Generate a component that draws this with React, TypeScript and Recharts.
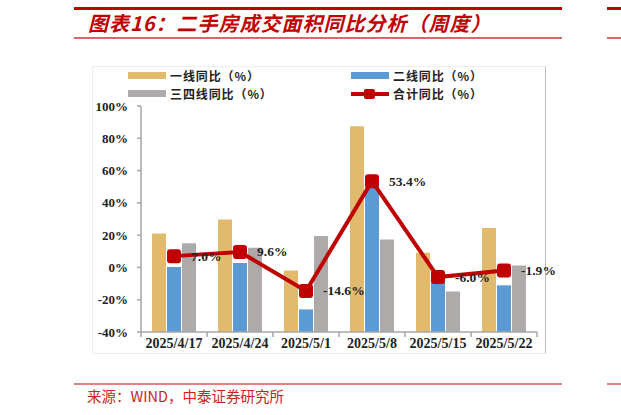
import { ComposedChart, Bar, Line, XAxis, YAxis, LabelList } from 'recharts';

const weeks = ['2025/4/17', '2025/4/24', '2025/5/1', '2025/5/8', '2025/5/15', '2025/5/22'];
const tier1 = [21.0, 29.7, -1.9, 87.5, 9.1, 24.4];
const tier2 = [0.3, 2.7, -26.0, 49.7, -9.1, -11.1];
const tier34 = [15.0, 12.2, 19.4, 17.3, -14.9, 1.2];
const total = [7.0, 9.6, -14.6, 53.4, -6.0, -1.9];
const yTicks = [-40, -20, 0, 20, 40, 60, 80, 100];

const RED = '#c00000';
const YELLOW = '#e2ba6e';
const BLUE = '#5b9bd5';
const GRAY = '#aeaaaa';
const SERIF = '"Liberation Serif", "Times New Roman", serif';
const CJK = '"Noto Sans CJK SC", "Noto Sans", sans-serif';

const base = yTicks[0];
const data = weeks.map((w, i) => ({
  week: w,
  t1: tier1[i],
  t2: tier2[i],
  t34: tier34[i],
  total: total[i],
}));

function XTick(props: any) {
  const { x, y, payload, index, visibleTicksCount } = props;
  const half = payload?.offset ?? 33;
  const last = index === (visibleTicksCount ?? weeks.length) - 1;
  return (
    <g>
      <line x1={x - half} x2={x - half} y1={y} y2={y + 5} stroke="#a6a6a6" strokeWidth={1.5} />
      {last && <line x1={x + half} x2={x + half} y1={y} y2={y + 5} stroke="#a6a6a6" strokeWidth={1.5} />}
      <text
        x={x}
        y={y + 16}
        textAnchor="middle"
        fontFamily={SERIF}
        fontWeight="bold"
        fontSize={14}
        fill="#222"
      >
        {payload.value}
      </text>
    </g>
  );
}

function SquareDot(props: any) {
  const { cx, cy } = props;
  if (cx == null || cy == null) return null;
  return <rect x={cx - 7} y={cy - 7} width={14} height={14} rx={3} fill={RED} />;
}

function TotalLabel(props: any) {
  const { x, y, value } = props;
  return (
    <text
      x={x + 17}
      y={y}
      dominantBaseline="central"
      fontFamily={SERIF}
      fontWeight="bold"
      fontSize={13.5}
      fill="#222"
    >
      {Number(value).toFixed(1)}%
    </text>
  );
}

const legendItems = [
  { name: '一线同比（%）', color: YELLOW, left: 128, top: 69, line: false },
  { name: '二线同比（%）', color: BLUE, left: 351, top: 69, line: false },
  { name: '三四线同比（%）', color: GRAY, left: 128, top: 87, line: false },
  { name: '合计同比（%）', color: RED, left: 351, top: 87, line: true },
];

function LegendBox() {
  return (
    <>
      {legendItems.map((it) => (
        <div
          key={it.name}
          style={{ position: 'absolute', left: it.left, top: it.top, height: 13, display: 'flex', alignItems: 'center' }}
        >
          {it.line ? (
            <svg width={38} height={12}>
              <line x1={0} x2={38} y1={6} y2={6} stroke={RED} strokeWidth={4} />
              <rect x={13} y={1} width={11} height={10} rx={2} fill={RED} />
            </svg>
          ) : (
            <div style={{ width: 38, height: 7, background: it.color }} />
          )}
          <div
            style={{
              marginLeft: 4,
              height: 13,
              fontFamily: CJK,
              fontWeight: 700,
              fontSize: 12,
              letterSpacing: 0.9,
              color: '#222',
              lineHeight: '13px',
              whiteSpace: 'nowrap',
            }}
          >
            {it.name}
          </div>
        </div>
      ))}
    </>
  );
}

export default function App() {
  return (
    <div style={{ position: 'absolute', left: 0, top: 0, width: 621, height: 415, background: '#fff', overflow: 'hidden' }}>
      {/* header rules */}
      <div style={{ position: 'absolute', left: 74, top: 7, width: 488, height: 3, background: RED }} />
      <div style={{ position: 'absolute', left: 607, top: 7, width: 14, height: 3, background: RED }} />
      <div style={{ position: 'absolute', left: 74, top: 37, width: 488, height: 1.5, background: '#e06666' }} />
      <div style={{ position: 'absolute', left: 607, top: 37, width: 14, height: 1.5, background: '#e06666' }} />
      <div
        style={{
          position: 'absolute',
          left: 88,
          top: 11,
          fontFamily: CJK,
          fontStyle: 'italic',
          fontWeight: 700,
          fontSize: 20,
          letterSpacing: 1,
          color: RED,
          whiteSpace: 'nowrap',
          lineHeight: '24px',
        }}
      >
        图表16：二手房成交面积同比分析（周度）
      </div>

      {/* chart frame */}
      <div
        style={{
          position: 'absolute',
          left: 92,
          top: 66,
          width: 452,
          height: 286,
          borderLeft: '1px solid #eeeeee',
          borderTop: '1px solid #eeeeee',
          borderBottom: '1px solid #eeeeee',
          borderRight: '1px solid #bfbfbf',
        }}
      />

      <LegendBox />

      <div style={{ position: 'absolute', left: 0, top: 0 }}>
        <ComposedChart
          width={621}
          height={415}
          data={data}
          margin={{ top: 106, right: 84, bottom: 53, left: 0 }}
          barSize={14}
          barGap={1}
        >
          <XAxis
            dataKey="week"
            axisLine={{ stroke: '#a6a6a6', strokeWidth: 1.5 }}
            tickLine={false}
            tickSize={0}
            tickMargin={0}
            height={30}
            interval={0}
            tick={<XTick />}
          />
          <YAxis
            width={141}
            domain={[yTicks[0], yTicks[yTicks.length - 1]]}
            ticks={yTicks}
            interval={0}
            allowDataOverflow
            axisLine={{ stroke: '#a6a6a6', strokeWidth: 1.5 }}
            tickLine={{ stroke: '#a6a6a6', strokeWidth: 1.5 }}
            tickSize={4}
            tickMargin={9}
            tickFormatter={(v: number) => `${v}%`}
            tick={{ fontFamily: SERIF, fontWeight: 'bold', fontSize: 13, fill: '#222' }}
          />
          <Bar dataKey={(d: any) => [base, d.t1]} name="一线同比（%）" fill={YELLOW} isAnimationActive={false} />
          <Bar dataKey={(d: any) => [base, d.t2]} name="二线同比（%）" fill={BLUE} isAnimationActive={false} />
          <Bar dataKey={(d: any) => [base, d.t34]} name="三四线同比（%）" fill={GRAY} isAnimationActive={false} />
          <Line
            dataKey="total"
            name="合计同比（%）"
            stroke={RED}
            strokeWidth={4}
            dot={<SquareDot />}
            activeDot={false}
            isAnimationActive={false}
          >
            <LabelList dataKey="total" content={<TotalLabel />} />
          </Line>
        </ComposedChart>
      </div>

      {/* footer */}
      <div style={{ position: 'absolute', left: 74, top: 383, width: 488, height: 2, background: '#e08080' }} />
      <div style={{ position: 'absolute', left: 607, top: 383, width: 14, height: 2, background: '#e08080' }} />
      <div
        style={{
          position: 'absolute',
          left: 87,
          top: 387,
          fontFamily: CJK,
          fontSize: 14.5,
          color: '#cc2222',
          whiteSpace: 'nowrap',
          lineHeight: '18px',
        }}
      >
        来源：WIND，中泰证券研究所
      </div>
    </div>
  );
}
